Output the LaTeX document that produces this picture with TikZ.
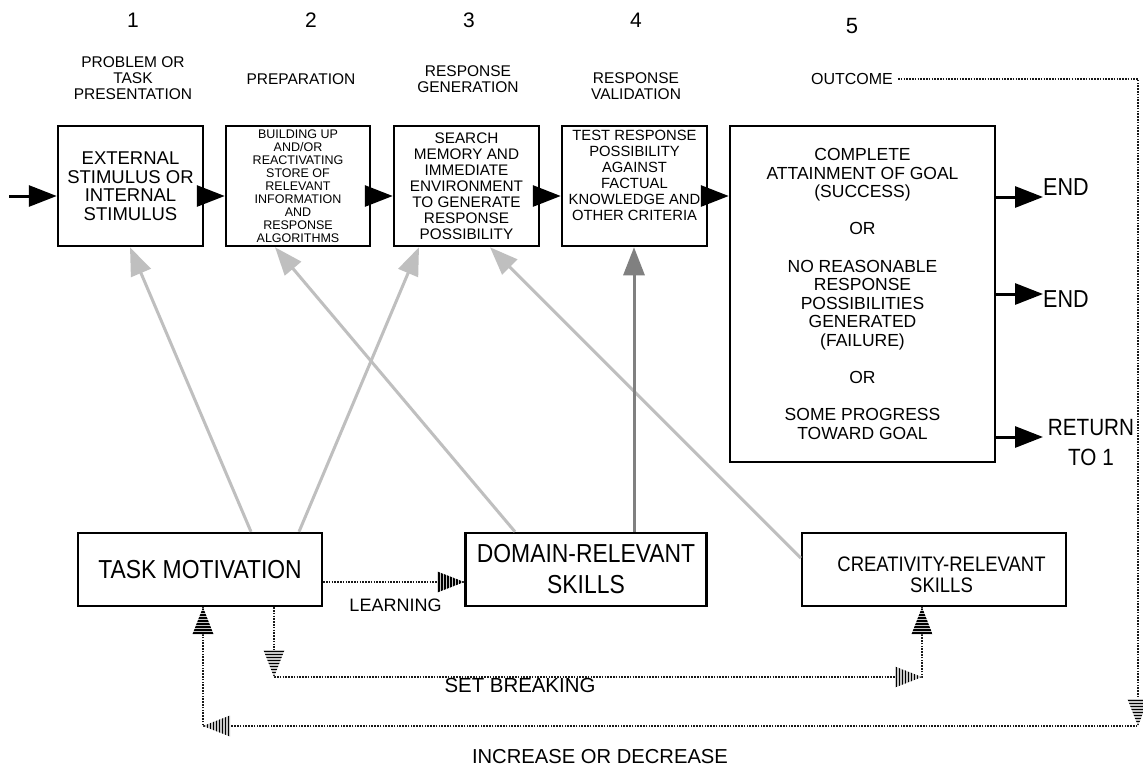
\documentclass[tikz,border=0pt]{standalone}
\usepackage{fontspec}
\setmainfont{Liberation Sans}
\newfontfamily\cond{Liberation Sans}[FakeStretch=0.88]
\usetikzlibrary{arrows.meta,calc}
\begin{document}
\begin{tikzpicture}[x=1pt,y=-1pt,
  box/.style={draw, line width=2.5pt, inner sep=0pt, align=center},
  blkarr/.style={line width=3pt, -{Triangle[length=28pt,width=21pt]}},
  greyarr/.style={line width=3pt, draw=gray!50, -{Triangle[length=28pt,width=21pt,fill=gray!50]}},
  darkarr/.style={line width=3pt, draw=gray, -{Triangle[length=28pt,width=21pt,fill=gray]}},
  dotline/.style={line width=2.8pt, dash pattern=on 1.6pt off 1.2pt, black!90},
  lbl/.style={inner sep=0pt, align=center},
  stripetip/.pic={
    \fill[gray!45] (0,0) -- (-27,-10.5) -- (-27,10.5) -- cycle;
    \begin{scope}
      \clip (0,0) -- (-27,-10.5) -- (-27,10.5) -- cycle;
      \foreach \i in {0,...,9} \draw[line width=1.7pt] (-1.5-3*\i,-11) -- (-1.5-3*\i,11);
    \end{scope}
  }]
\path[use as bounding box, fill=white] (0,0) rectangle (1143,769);

% step numbers
\node[lbl, font=\fontsize{21}{24}\selectfont] (n1) at (133,20) {1};
\node[lbl, font=\fontsize{21}{24}\selectfont] (n2) at (311,20) {2};
\node[lbl, font=\fontsize{21}{24}\selectfont] (n3) at (469,20) {3};
\node[lbl, font=\fontsize{21}{24}\selectfont] (n4) at (636,20) {4};
\node[lbl, font=\fontsize{22}{24}\selectfont] (n5) at (852,26) {5};

% headers
\node[lbl, font=\fontsize{15.5}{16}\selectfont] (h1) at (133,78) {PROBLEM OR\\TASK\\PRESENTATION};
\node[lbl, font=\fontsize{15.5}{16}\selectfont] (h2) at (301,79) {PREPARATION};
\node[lbl, font=\fontsize{15.5}{16}\selectfont] (h3) at (468,79) {RESPONSE\\GENERATION};
\node[lbl, font=\fontsize{15.5}{16}\selectfont] (h4) at (636,86.5) {RESPONSE\\VALIDATION};
\node[lbl, font=\fontsize{16}{16}\selectfont] (outcome) at (852,79) {OUTCOME};

% process boxes
\node[box, minimum width=145pt, minimum height=120pt, font=\fontsize{18.5}{18.5}\selectfont] (b1) at (130.5,186)
  {EXTERNAL\\STIMULUS OR\\INTERNAL\\STIMULUS};
\node[box, minimum width=144pt, minimum height=120pt, font=\fontsize{12.5}{13}\selectfont] (b2) at (298,186)
  {BUILDING UP\\AND/OR\\REACTIVATING\\STORE OF\\RELEVANT\\INFORMATION\\AND\\RESPONSE\\ALGORITHMS};
\node[box, minimum width=145pt, minimum height=120pt, font=\fontsize{15.3}{16}\selectfont] (b3) at (466.5,186)
  {SEARCH\\MEMORY AND\\IMMEDIATE\\ENVIRONMENT\\TO GENERATE\\RESPONSE\\POSSIBILITY};
\node[box, minimum width=145pt, minimum height=120pt, align=none, font=\fontsize{14.8}{16}\selectfont] (b4) at (634.5,186)
  {\raisebox{9pt}[\height][\depth]{\begin{tabular}{@{}c@{}}TEST RESPONSE\\POSSIBILITY\\AGAINST\\FACTUAL\\KNOWLEDGE AND\\OTHER CRITERIA\end{tabular}}};
\node[box, minimum width=265pt, minimum height=336pt, font=\fontsize{17.5}{18.6}\selectfont] (b5) at (862.5,294)
  {COMPLETE\\ATTAINMENT OF GOAL\\(SUCCESS)\\[18.6pt]OR\\[18.6pt]NO REASONABLE\\RESPONSE\\POSSIBILITIES\\GENERATED\\(FAILURE)\\[18.6pt]OR\\[18.6pt]SOME PROGRESS\\TOWARD GOAL};

% outcome labels
\node[lbl, anchor=west, font=\cond\fontsize{24.5}{26}\selectfont] (end1) at (1043,187) {END};
\node[lbl, anchor=west, font=\cond\fontsize{24.5}{26}\selectfont] (end2) at (1043,299) {END};
\node[lbl, font=\cond\fontsize{23.5}{30}\selectfont] (ret) at (1091,443) {RETURN\\TO 1};

% component boxes
\node[box, minimum width=244pt, minimum height=73pt, font=\cond\fontsize{26}{28}\selectfont] (tm) at (200,569.5) {TASK MOTIVATION};
\node[box, minimum width=241pt, minimum height=73pt, font=\cond\fontsize{26}{31}\selectfont] (dr) at (586,569.5) {DOMAIN-RELEVANT\\SKILLS};
\node[box, minimum width=264pt, minimum height=73pt, align=none, font=\cond\fontsize{21}{19.5}\selectfont] (cr) at (934,569.5)
  {\hspace*{15pt}\raisebox{-8pt}[\height][\depth]{\begin{tabular}{@{}c@{}}CREATIVITY-RELEVANT\\SKILLS\end{tabular}}};

% other labels
\node[lbl, font=\fontsize{18}{20}\selectfont] (learn) at (395.5,605) {LEARNING};
\node[lbl, font=\fontsize{20.4}{22}\selectfont] (setb) at (520,685) {SET BREAKING};
\node[lbl, font=\fontsize{20.2}{22}\selectfont] (incdec) at (600,757) {INCREASE OR DECREASE};

% main flow
\coordinate (in) at (9,196);
\path ([yshift=-10pt]b1.east) coordinate (a1)
      ([yshift=-10pt]b2.east) coordinate (a2)
      ([yshift=-10pt]b3.east) coordinate (a3)
      ([yshift=-10pt]b4.east) coordinate (a4);
\draw[blkarr] (in) -- (in -| b1.west);
\draw[blkarr] (a1) -- (a1 -| b2.west);
\draw[blkarr] (a2) -- (a2 -| b3.west);
\draw[blkarr] (a3) -- (a3 -| b4.west);
\draw[blkarr] (a4) -- (a4 -| b5.west);

\coordinate (e1) at (1043,197);
\coordinate (e2) at (1043,294);
\coordinate (e3) at (1043,437);
\draw[blkarr] (b5.east |- e1) -- (e1);
\draw[blkarr] (b5.east |- e2) -- (e2);
\draw[blkarr] (b5.east |- e3) -- (e3);

% influence arrows
\draw[greyarr] ([xshift=51pt]tm.north) -- ([xshift=-0.5pt]b1.south);
\draw[greyarr] ([xshift=99pt]tm.north) -- ([xshift=-47.5pt]b3.south);
\draw[greyarr] ([xshift=-71pt]dr.north) -- ([xshift=-23pt]b2.south);
\draw[greyarr] ([yshift=11.5pt]cr.west) -- ([xshift=23.5pt]b3.south);
\draw[darkarr] ([xshift=48pt]dr.north) -- ([xshift=-0.5pt]b4.south);

% learning
\draw[dotline] ([yshift=-12.5pt]tm.east) -- ([yshift=-12.5pt]dr.west);
\pic at ([yshift=-12.5pt]dr.west) {stripetip};

% set breaking
\coordinate (s1) at (274,677);
\coordinate (s2) at (922,677);
\draw[dotline] (s1 |- tm.south) -- (s1) -- (s2) -- (s2 |- cr.south);
\pic[rotate=-90] at (s1) {stripetip};
\pic at (s2) {stripetip};
\pic[rotate=90] at (s2 |- cr.south) {stripetip};

% outcome feedback
\coordinate (o1) at (1138,79);
\coordinate (o2) at (1138,726);
\coordinate (o3) at (203,726);
\draw[dotline] ([xshift=5pt]outcome.east) -- (o1) -- (o2) -- (o3) -- (o3 |- tm.south);
\pic[rotate=-90] at (o2) {stripetip};
\pic[rotate=180] at (o3) {stripetip};
\pic[rotate=90] at (o3 |- tm.south) {stripetip};
\end{tikzpicture}
\end{document}
